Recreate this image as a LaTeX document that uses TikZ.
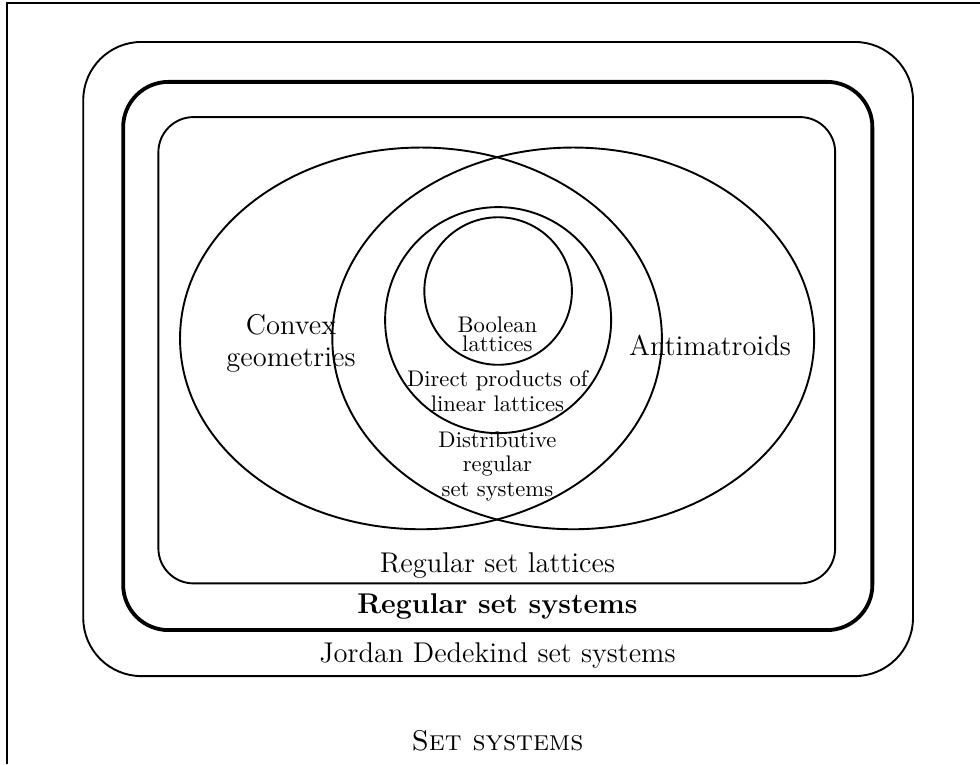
\documentclass[tikz,border=0pt]{standalone}
\usepackage{amsmath}
\usetikzlibrary{calc}

\begin{document}
\begin{tikzpicture}[thick,
    lbl/.style={align=center, font=\fontsize{12}{13.5}\selectfont},
    sublbl/.style={align=center, font=\fontsize{9.5}{10.2}\selectfont}]
    \useasboundingbox (0,0) rectangle (14.48,-11.29);

    % frame of all set systems
    \draw (0.10,-11.29) |- (14.48,-0.05);

    % nested classes
    \draw[rounded corners=0.86cm] (1.23,-0.62) rectangle (13.49,-9.99);
    \draw[ultra thick, rounded corners=0.67cm] (1.82,-1.21) rectangle (12.89,-9.31);
    \draw[rounded corners=0.52cm] (2.34,-1.73) rectangle (12.34,-8.62);

    \draw (6.22,-5.00) ellipse (3.56 and 2.82);
    \draw (8.47,-5.00) ellipse (3.56 and 2.82);
    \draw (7.36,-4.73) circle (1.67);
    \draw (7.36,-4.30) circle (1.09);

    \node[lbl] (convex) at (4.30,-5.08) {Convex\\geometries};
    \node[lbl] (anti) at (10.49,-5.10) {Antimatroids};
    \node[sublbl] (bool) at (7.35,-4.94) {Boolean\\[-2pt]lattices};
    \node[sublbl] (direct) at (7.35,-5.78) {Direct products of\\linear lattices};
    \node[sublbl] (distr) at (7.35,-6.89) {Distributive\\regular\\set systems};
    \node[lbl] (rsl) at (7.35,-8.35) {Regular set lattices};
    \node[lbl] (rss) at (7.35,-8.96) {\bfseries Regular set systems};
    \node[lbl] (jd) at (7.35,-9.68) {Jordan Dedekind set systems};
    \node[lbl] (sets) at (7.35,-10.94) {\textsc{Set systems}};
\end{tikzpicture}
\end{document}
